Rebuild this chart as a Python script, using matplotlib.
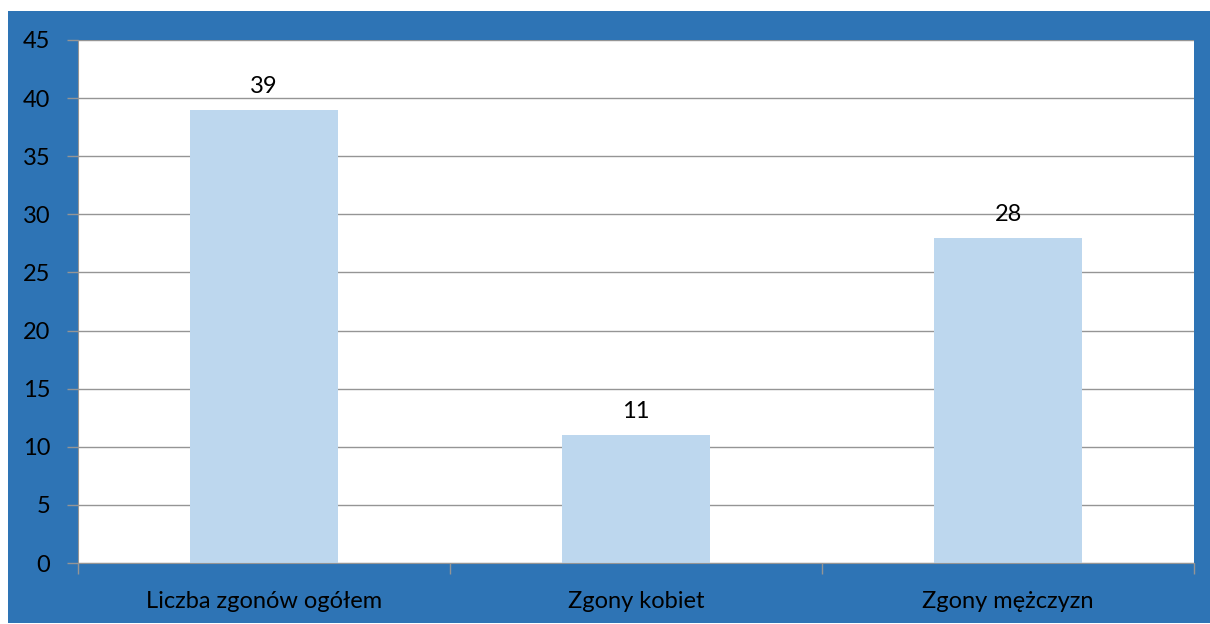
import matplotlib.pyplot as plt
from matplotlib.patches import Rectangle

categories = ["Liczba zgonów ogółem", "Zgony kobiet", "Zgony mężczyzn"]
values = [39, 11, 28]
y_ticks = [0, 5, 10, 15, 20, 25, 30, 35, 40, 45]

BLUE = "#2E74B5"
BAR = "#BDD7EE"
GRID = "#959595"
FS = 17

plt.rcParams["font.family"] = ["Lato", "DejaVu Sans"]

fig = plt.figure(figsize=(12.10, 6.24), dpi=100)
fig.patch.set_facecolor("white")
# blue frame behind the plot
frame = Rectangle((8 / 1210, 1 - 623 / 624), 1 - 8 / 1210, (623 - 11) / 624,
                  transform=fig.transFigure, facecolor=BLUE, edgecolor="none", zorder=-10)
fig.add_artist(frame)

ax = fig.add_axes([78 / 1210, 1 - 563 / 624, (1194 - 78) / 1210, (563 - 40) / 624])
ax.set_facecolor("white")

x = range(len(categories))
ax.bar(x, values, width=0.4, color=BAR, zorder=2)
for i, v in enumerate(values):
    ax.text(i, v + 1.1, str(v), ha="center", va="bottom", fontsize=FS, color="black")

ax.set_xlim(-0.5, len(categories) - 0.5)
ax.set_ylim(0, 45)
ax.set_yticks(y_ticks)
ax.yaxis.grid(True, color=GRID, linewidth=1, zorder=0)
ax.set_axisbelow(True)

ax.set_xticks(list(x))
ax.set_xticklabels(categories)
ax.set_xticks([-0.5, 0.5, 1.5, 2.5], minor=True)
ax.tick_params(axis="x", which="major", length=0, pad=20, labelsize=FS)
ax.tick_params(axis="x", which="minor", length=8, color=GRID, width=1)
ax.tick_params(axis="y", length=8, color=GRID, width=1, pad=12, labelsize=FS)

for side in ["top", "right"]:
    ax.spines[side].set_visible(False)
ax.spines["left"].set_color(GRID)
ax.spines["bottom"].set_color(GRID)

fig.savefig("out.png", dpi=100, facecolor=fig.get_facecolor())
